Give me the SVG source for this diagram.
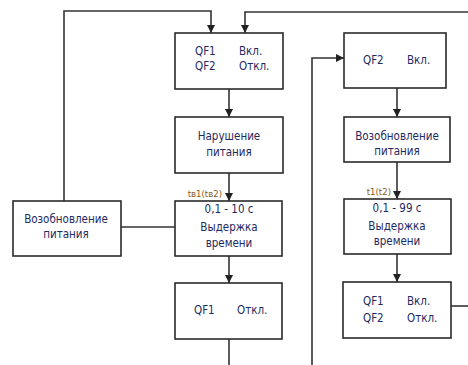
<svg xmlns="http://www.w3.org/2000/svg" width="468" height="365" viewBox="0 0 468 365">
<defs>
<marker id="arr" viewBox="0 0 10 10" refX="10" refY="5" markerWidth="8" markerHeight="9" markerUnits="userSpaceOnUse" orient="auto">
<path d="M0,0 L10,5 L0,10 z" fill="#222"/>
</marker>
<style>
.box{fill:#fff;stroke:#2a2a2a;stroke-width:1.6}
.ln{fill:none;stroke:#333;stroke-width:1.6}
.t{font-family:"DejaVu Sans Condensed","Liberation Sans Narrow","Liberation Sans",sans-serif;font-stretch:condensed;font-size:11.5px;fill:#1e2a60}
.c{text-anchor:middle}
.lb{font-family:"DejaVu Sans Condensed","Liberation Sans Narrow","Liberation Sans",sans-serif;font-stretch:condensed;font-size:9.5px;fill:#8a5a1e;text-anchor:end}
</style>
</defs>
<rect width="468" height="365" fill="#fff"/>
<g id="connectors">
<polyline class="ln" points="64,201 64,11 211,11 211,33" marker-end="url(#arr)"/>
<polyline class="ln" points="468,12 245,12 245,33" marker-end="url(#arr)"/>
<line class="ln" x1="229" y1="89" x2="229" y2="117" marker-end="url(#arr)"/>
<line class="ln" x1="229" y1="173" x2="229" y2="201" marker-end="url(#arr)"/>
<line class="ln" x1="229" y1="256" x2="229" y2="283" marker-end="url(#arr)"/>
<line class="ln" x1="229" y1="339" x2="229" y2="365"/>
<line class="ln" x1="121" y1="227" x2="175" y2="227"/>
<polyline class="ln" points="312,365 312,58 344,58" marker-end="url(#arr)"/>
<line class="ln" x1="397" y1="88" x2="397" y2="117" marker-end="url(#arr)"/>
<line class="ln" x1="397" y1="162" x2="397" y2="199" marker-end="url(#arr)"/>
<line class="ln" x1="397" y1="254" x2="397" y2="282" marker-end="url(#arr)"/>
<line class="ln" x1="451" y1="306" x2="468" y2="306"/>
</g>
<g id="nodeA">
<rect class="box" x="175" y="33" width="108" height="56"/>
<text class="t" x="195" y="55">QF1</text><text class="t" x="195" y="70">QF2</text>
<text class="t" x="239" y="55">Вкл.</text><text class="t" x="239" y="70">Откл.</text>
</g>
<g id="nodeB">
<rect class="box" x="175" y="117" width="108" height="56"/>
<text class="t c" x="229" y="140">Нарушение</text><text class="t c" x="229" y="156">питания</text>
</g>
<g id="nodeC">
<rect class="box" x="175" y="201" width="107" height="55"/>
<text class="lb" x="222" y="197">tв1(tв2)</text>
<text class="t c" x="229" y="213">0,1 - 10 с</text><text class="t c" x="229" y="231">Выдержка</text><text class="t c" x="229" y="247">времени</text>
</g>
<g id="nodeD">
<rect class="box" x="175" y="283" width="107" height="56"/>
<text class="t" x="194" y="314">QF1</text><text class="t" x="237" y="314">Откл.</text>
</g>
<g id="nodeE">
<rect class="box" x="13" y="201" width="108" height="55"/>
<text class="t c" x="66" y="223">Возобновление</text><text class="t c" x="66" y="238">питания</text>
</g>
<g id="nodeF">
<rect class="box" x="344" y="33" width="102" height="55"/>
<text class="t" x="363" y="64">QF2</text><text class="t" x="407" y="64">Вкл.</text>
</g>
<g id="nodeG">
<rect class="box" x="344" y="117" width="106" height="45"/>
<text class="t c" x="397" y="140">Возобновление</text><text class="t c" x="397" y="155">питания</text>
</g>
<g id="nodeH">
<rect class="box" x="344" y="199" width="107" height="55"/>
<text class="lb" x="391" y="195">t1(t2)</text>
<text class="t c" x="397" y="212">0,1 - 99 с</text><text class="t c" x="397" y="230">Выдержка</text><text class="t c" x="397" y="245">времени</text>
</g>
<g id="nodeI">
<rect class="box" x="343" y="282" width="108" height="56"/>
<text class="t" x="363" y="305">QF1</text><text class="t" x="363" y="322">QF2</text>
<text class="t" x="407" y="305">Вкл.</text><text class="t" x="407" y="322">Откл.</text>
</g>
</svg>
